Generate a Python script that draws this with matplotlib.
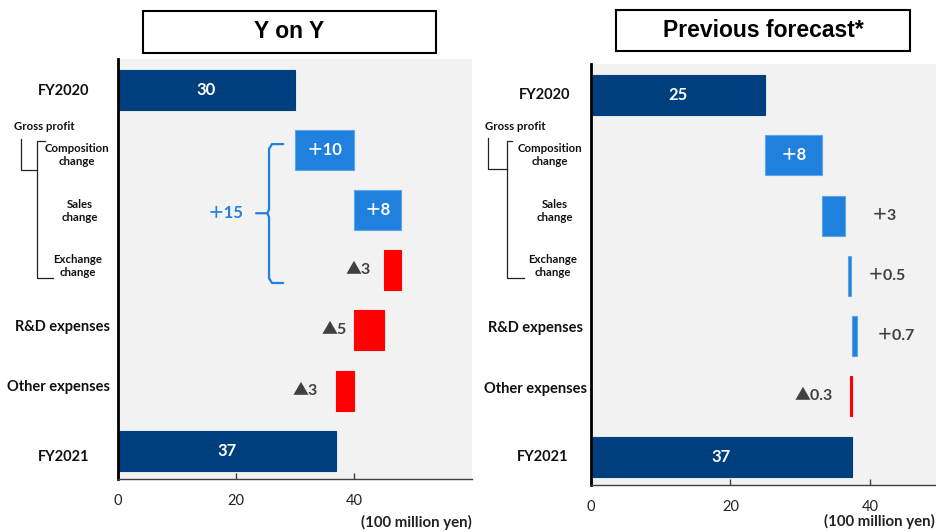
import matplotlib
matplotlib.use('Agg')
import matplotlib.pyplot as plt
from matplotlib.patches import Rectangle
from matplotlib.lines import Line2D

# ---------------- data ----------------
categories = ['FY2020', 'Composition\nchange', 'Sales\nchange', 'Exchange\nchange',
              'R&D expenses', 'Other expenses', 'FY2021']
is_total = [True, False, False, False, False, False, True]

yoy_start = [0, 30, 40, 48, 45, 40, 0]
yoy_delta = [30, 10, 8, -3, -5, -3, 37]
yoy_labels = ['30', '＋10', '＋8', '▲3', '▲5', '▲3', '37']
yoy_gross_label = '＋15'

fc_start = [0, 25, 33.2, 36.8, 37.5, 37.5, 0]
fc_delta = [25, 8.2, 3.3, 0.5, 0.7, -0.3, 37.4]
fc_labels = ['25', '＋8', '＋3', '＋0.5', '＋0.7', '▲0.3', '37']

xticks = [0, 20, 40]
unit_label = '(100 million yen)'
titles = ['Y on Y', 'Previous forecast*']

# ---------------- style ----------------
NAVY = '#003f7d'
BLUE = '#1f80dd'
RED = '#ff0000'
BG = '#f2f2f2'
DARK = '#404040'
FONT = ['Lato', 'Noto Sans CJK JP', 'DejaVu Sans']
plt.rcParams['font.family'] = FONT

W, H = 936, 532
fig = plt.figure(figsize=(W / 100, H / 100), dpi=100)


def fx(px):
    return px / W


def fy(py):
    return 1 - py / H


def axes_px(x0, x1, y0, y1):
    return fig.add_axes([fx(x0), fy(y1), fx(x1) - fx(x0), (y1 - y0) / H])


def bar_color(i, d):
    if is_total[i]:
        return NAVY
    return BLUE if d > 0 else RED


def draw_panel(ax, start, delta, labels, xmax, label_mode):
    ax.set_facecolor(BG)
    ax.set_xlim(0, xmax)
    ax.set_ylim(6.47, -0.515)
    for i, (s, d) in enumerate(zip(start, delta)):
        c = bar_color(i, d)
        ec = c if is_total[i] or d < 0 else '#5fa6e6'
        ax.barh(i, d, left=s, height=0.665, color=c, edgecolor=ec, linewidth=0.8)
        mode, off = label_mode[i]
        if mode == 'in':
            ax.text(s + d / 2, i, labels[i], ha='center', va='center', color='white',
                    fontsize=12, fontweight='bold')
        elif mode == 'right':
            ax.annotate(labels[i], (max(s, s + d), i), xytext=(off, 0), textcoords='offset points',
                        ha='left', va='center', color=DARK, fontsize=11.5, fontweight='bold')
        else:
            ax.annotate(labels[i], (min(s, s + d), i), xytext=(-off, 0), textcoords='offset points',
                        ha='right', va='center', color=DARK, fontsize=11.5, fontweight='bold')
    ax.set_yticks([])
    ax.set_xticks(xticks)
    ax.tick_params(axis='x', direction='in', length=4, width=1, color='#404040',
                   pad=11, labelsize=10.5, labelcolor='#222222')
    for sp in ('top', 'right'):
        ax.spines[sp].set_visible(False)
    ax.spines['left'].set_linewidth(2)
    ax.spines['left'].set_color('black')
    ax.spines['bottom'].set_linewidth(1)
    ax.spines['bottom'].set_color('#404040')


# left panel
axL = axes_px(118, 472, 59, 479)
modeL = [('in', 0), ('in', 0), ('in', 0), ('left', 9), ('left', 5), ('left', 13), ('in', 0)]
draw_panel(axL, yoy_start, yoy_delta, yoy_labels, 60, modeL)

# brace + total label for gross profit
bx, tip, hook = 25.6, 23.4, 28.0
yt, ym, yb = 0.9, 2.05, 3.21
brace_kw = dict(color=BLUE, lw=1.6, solid_capstyle='round')
axL.plot([hook, bx + 0.5, bx, bx], [yt, yt, yt + 0.08, ym - 0.06], **brace_kw)
axL.plot([bx, bx - 0.3, tip], [ym - 0.06, ym, ym], **brace_kw)
axL.plot([bx - 0.3, bx, bx], [ym, ym + 0.06, yb - 0.08], **brace_kw)
axL.plot([bx, bx + 0.5, hook], [yb - 0.08, yb, yb], **brace_kw)
axL.text(18.3, ym, yoy_gross_label, ha='center', va='center', color=BLUE,
         fontsize=12, fontweight='bold')

# right panel
axR = axes_px(591, 939.6, 64, 485)
modeR = [('in', 0), ('in', 0), ('right', 19), ('right', 12), ('right', 14), ('left', 13), ('in', 0)]
draw_panel(axR, fc_start, fc_delta, fc_labels, 50, modeR)

# unit labels
fig.text(fx(472), fy(522), unit_label, ha='right', va='center', fontsize=10.8, fontweight='bold',
         color='#222222')
fig.text(fx(935), fy(521), unit_label, ha='right', va='center', fontsize=10.8, fontweight='bold',
         color='#222222')

# title boxes
for (x0, x1, y0, y1), t in zip([(143, 436, 11, 53), (616, 910, 10, 51)], titles):
    fig.add_artist(Rectangle((fx(x0), fy(y1)), fx(x1) - fx(x0), (y1 - y0) / H,
                             transform=fig.transFigure, facecolor='white',
                             edgecolor='black', linewidth=1.5))
    fig.text(fx((x0 + x1) / 2), fy((y0 + y1) / 2), t, ha='center', va='center',
             fontsize=16.5, fontweight='bold', family=['Liberation Sans', 'DejaVu Sans'])

# category labels
big = dict(fontsize=10.5, fontweight='bold', color='#111111', ha='center', va='center')
small = dict(fontsize=8.2, fontweight='bold', color='#111111', ha='center', va='center',
             linespacing=1.15)
left_pos = {'x': [64, 77, 80, 78, 62.5, 58.5, 64], 'y': [91, 155, 211, 266, 327, 387, 457]}
right_pos = {'x': [545, 550, 555, 553, 536, 535, 543], 'y': [95, 155, 211, 266, 328, 389, 457]}
for pos, gp in [(left_pos, (44, 126)), (right_pos, (515, 126))]:
    for i, cat in enumerate(categories):
        kw = small if '\n' in cat else big
        fig.text(fx(pos['x'][i]), fy(pos['y'][i]), cat, **kw)
    fig.text(fx(gp[0]), fy(gp[1]), 'Gross profit', **small)

# brackets next to labels
def bracket(xo, xi, ytop_o, yjoin, ytop_i, ybot_i, x_top_end, x_bot_end):
    lines = [([xo, xo, xi], [ytop_o, yjoin, yjoin]),
             ([x_top_end, xi, xi, x_bot_end], [ytop_i, ytop_i, ybot_i, ybot_i])]
    for xs, ys in lines:
        fig.add_artist(Line2D([fx(v) for v in xs], [fy(v) for v in ys],
                              transform=fig.transFigure, color='#222222', lw=0.9))


bracket(20.7, 37, 139, 170, 141, 278, 45, 53)
bracket(488, 507, 138, 169, 141, 278, 512, 524)

fig.savefig('out.png', dpi=100)
